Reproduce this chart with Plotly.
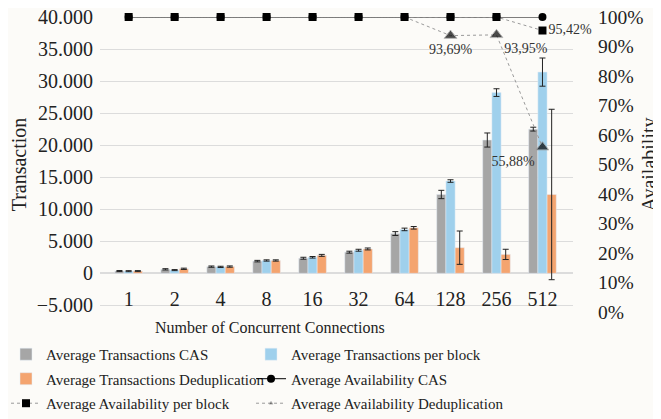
import plotly.graph_objects as go

# Dados
conexoes = ["1", "2", "4", "8", "16", "32", "64", "128", "256", "512"]

tx_cas = [350, 620, 1040, 1900, 2350, 3300, 6200, 12300, 20800, 22500]
tx_bloco = [330, 500, 1000, 2000, 2500, 3600, 6850, 14400, 28200, 31400]
tx_dedup = [340, 700, 1050, 2000, 2800, 3800, 7100, 4000, 2950, 12300]

erro_cas = [80, 100, 100, 120, 150, 150, 300, 650, 1100, 300]
erro_bloco = [80, 80, 100, 100, 120, 150, 200, 200, 600, 2200]
erro_dedup = [80, 100, 100, 100, 150, 150, 200, 2600, 800, 13300]

disp_cas = [1, 1, 1, 1, 1, 1, 1, 1, 1, 1]
disp_bloco = [1, 1, 1, 1, 1, 1, 1, 1, 1, 0.9542]
disp_dedup = [1, 1, 1, 1, 1, 1, 1, 0.9369, 0.9395, 0.5588]

rotulos_bloco = ["", "", "", "", "", "", "", "", "", "95,42%"]
rotulos_dedup = ["", "", "", "", "", "", "", "93,69%", "93,95%", "55,88%"]

# Cores
cor_cas = "#A6A6A6"
cor_bloco = "#9FD0EC"
cor_dedup = "#F4A46F"
fonte = "Liberation Serif"

# Eixo esquerdo e direito
y_min, y_max = -6040, 40000

fig = go.Figure()

# Barras
for nome, vals, erro, cor, rank, leg in [
    ("Average Transactions CAS", tx_cas, erro_cas, cor_cas, 1, "legend"),
    ("Average Transactions per block", tx_bloco, erro_bloco, cor_bloco, 2, "legend2"),
    ("Average Transactions Deduplication", tx_dedup, erro_dedup, cor_dedup, 3, "legend"),
]:
    fig.add_trace(go.Bar(
        x=conexoes, y=vals, name=nome, marker_color=cor, legendrank=rank, legend=leg,
        legendgroup=nome,
        error_y=dict(type="data", array=erro, color="#222222", thickness=1, width=3),
    ))

# Linhas de disponibilidade (dedup embaixo, bloco por cima)
fig.add_trace(go.Scatter(
    x=conexoes, y=disp_dedup, yaxis="y2", name="Average Availability Deduplication",
    mode="lines+markers+text", legendrank=6, legend="legend2", cliponaxis=False,
    legendgroup="disp_dedup",
    line=dict(color="#9A9A9A", width=1, dash="dot"),
    marker=dict(symbol="triangle-up", color="black",
                size=[11 if v < 1 else 0 for v in disp_dedup]),
    text=rotulos_dedup,
    textposition=["bottom center"] * 8 + ["bottom right", "bottom left"],
    textfont=dict(family=fonte, size=14, color="#333333"),
))
fig.add_trace(go.Scatter(
    x=conexoes, y=disp_cas, yaxis="y2", name="Average Availability CAS",
    mode="lines+markers", legendrank=4, legend="legend2", cliponaxis=False,
    legendgroup="disp_cas",
    line=dict(color="black", width=1),
    marker=dict(symbol="circle", color="black", size=8),
))
fig.add_trace(go.Scatter(
    x=conexoes, y=disp_bloco, yaxis="y2", name="Average Availability per block",
    mode="lines+markers+text", legendrank=5, legend="legend", cliponaxis=False,
    legendgroup="disp_bloco",
    line=dict(color="#9A9A9A", width=1, dash="dot"),
    marker=dict(symbol="square", color="black", size=8),
    text=rotulos_bloco, textposition="middle right",
    textfont=dict(family=fonte, size=14, color="#333333"),
))

pos_zero = (0 - y_min) / (y_max - y_min)

# Duas colunas de legenda
estilo_leg = dict(orientation="v", y=-0.227, xanchor="left", yanchor="middle",
                  tracegroupgap=2, font=dict(family=fonte, size=15),
                  bgcolor="rgba(0,0,0,0)")

fig.update_layout(
    width=653, height=411,
    margin=dict(l=92, r=88, t=9, b=107, autoexpand=False),
    paper_bgcolor="#FCFBF8", plot_bgcolor="#FCFBF8",
    font=dict(family=fonte, size=16, color="#222222"),
    separators=",.",
    barmode="group", bargap=0.4, bargroupgap=0,
    xaxis=dict(anchor="free", position=pos_zero, showgrid=False, showline=False,
               ticks="", ticklabelstandoff=12, automargin=False,
               tickfont=dict(size=20)),
    yaxis=dict(range=[y_min, y_max], dtick=5000, tick0=0, tickformat=",d",
               gridcolor="#DCDCDC", zeroline=True, zerolinecolor="#DCDCDC",
               automargin=False, tickfont=dict(size=20), ticklabelstandoff=6,
               ticklabeloverflow="allow",
               title=dict(text="Transaction", standoff=8, font=dict(size=20))),
    yaxis2=dict(range=[0, 1], dtick=0.1, tickformat=".0%", overlaying="y", side="right",
                showgrid=False, zeroline=False, ticklabelstandoff=24, automargin=False,
                tickfont=dict(size=19.5), ticklabeloverflow="allow",
                title=dict(text="Availability", standoff=2, font=dict(size=20))),
    legend=dict(estilo_leg, x=-0.1987),
    legend2=dict(estilo_leg, x=0.3193),
    annotations=[dict(text="Number of Concurrent Connections", x=0.36, y=-0.051,
                      xref="paper", yref="paper", xanchor="center", yanchor="middle",
                      showarrow=False, font=dict(family=fonte, size=16))],
)

fig.write_html("out.html")
